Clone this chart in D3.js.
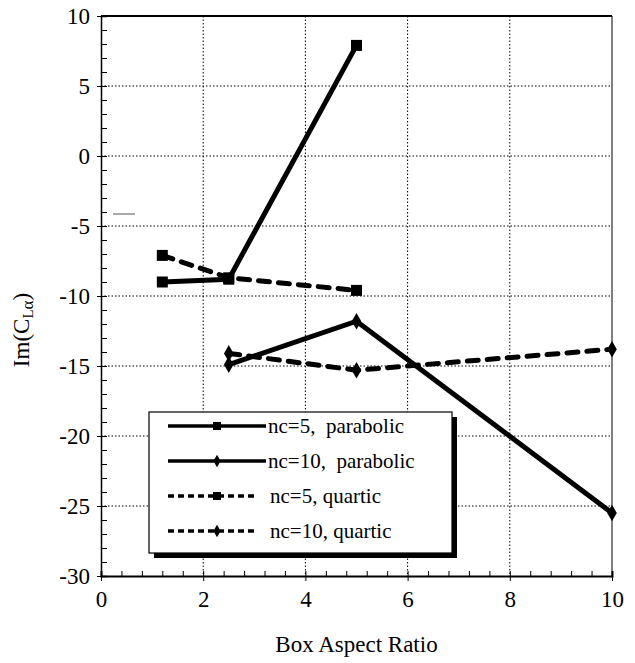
<!DOCTYPE html>
<html>
<head>
<meta charset="utf-8">
<script src="https://cdn.jsdelivr.net/npm/d3@7"></script>
</head>
<body style="margin:0">
<script>
// aspect ratios sampled per series
const xNc5 = [1.2, 2.5, 5];
const xNc10 = [2.5, 5, 10];

// Im(CLa) values
const nc5Parabolic = [-9.0, -8.8, 7.9];
const nc10Parabolic = [-14.9, -11.8, -25.5];
const nc5Quartic = [-7.1, -8.7, -9.6];
const nc10Quartic = [-14.1, -15.3, -13.8];

const xTicks = [0, 2, 4, 6, 8, 10];
const yTicks = [-30, -25, -20, -15, -10, -5, 0, 5, 10];

const seriesNames = ["nc=5,\u00a0 parabolic", "nc=10,\u00a0 parabolic", "nc=5, quartic", "nc=10, quartic"];

const serif = "Liberation Serif";
const x = d3.scaleLinear().domain([0, 10]).range([101, 612]);
const y = d3.scaleLinear().domain([-30, 10]).range([576, 16]);

const svg = d3.select("body").append("svg")
  .attr("width", 635)
  .attr("height", 663)
  .attr("font-family", serif);

// dotted grid
svg.append("g")
  .selectAll("line")
  .data(yTicks.filter(d => d > -30 && d < 10))
  .join("line")
  .attr("x1", x(0)).attr("x2", x(10))
  .attr("y1", d => y(d)).attr("y2", d => y(d))
  .attr("stroke", "#000").attr("stroke-width", 1)
  .attr("stroke-dasharray", "1.5,2");

svg.append("g")
  .selectAll("line")
  .data(xTicks.filter(d => d > 0 && d < 10))
  .join("line")
  .attr("x1", d => x(d)).attr("x2", d => x(d))
  .attr("y1", y(10)).attr("y2", y(-30))
  .attr("stroke", "#000").attr("stroke-width", 1)
  .attr("stroke-dasharray", "1.5,2");

// frame: top and right
svg.append("line").attr("x1", x(0)).attr("x2", x(10)).attr("y1", y(10)).attr("y2", y(10))
  .attr("stroke", "#000").attr("stroke-width", 2);
svg.append("line").attr("x1", x(10)).attr("x2", x(10)).attr("y1", y(10)).attr("y2", y(-30))
  .attr("stroke", "#000").attr("stroke-width", 1);

// minor ticks, inward
const yMinor = svg.append("g")
  .attr("transform", `translate(${x(0)},0)`)
  .call(d3.axisRight(y).ticks(40).tickSize(6).tickFormat(""));
yMinor.select(".domain").attr("stroke-width", 1.5);

const xMinor = svg.append("g")
  .attr("transform", `translate(0,${y(-30)})`)
  .call(d3.axisTop(x).tickValues(d3.range(0, 10.01, 0.4)).tickSize(5).tickFormat(""));
xMinor.select(".domain").attr("stroke-width", 2);

// labelled major ticks
const yLab = svg.append("g")
  .attr("transform", `translate(${x(0)},0)`)
  .call(d3.axisLeft(y).tickValues(yTicks).tickSize(4).tickPadding(7).tickFormat(d => String(d)));
yLab.select(".domain").remove();
yLab.attr("font-family", serif).attr("font-size", 23);

const xLab = svg.append("g")
  .attr("transform", `translate(0,${y(-30)})`)
  .call(d3.axisBottom(x).tickValues(xTicks).tickSize(5).tickPadding(10).tickFormat(d => String(d)));
xLab.select(".domain").remove();
xLab.attr("font-family", serif).attr("font-size", 23);

// axis titles
svg.append("text")
  .attr("x", (x(0) + x(10)) / 2)
  .attr("y", 652)
  .attr("text-anchor", "middle")
  .attr("font-size", 23)
  .text("Box Aspect Ratio");

const yTitle = svg.append("text")
  .attr("transform", "translate(29,330) rotate(-90)")
  .attr("text-anchor", "middle")
  .attr("font-size", 23);
yTitle.append("tspan").text("Im(C");
yTitle.append("tspan").attr("dy", 4).attr("font-size", 15).text("L");
yTitle.append("tspan").attr("font-size", 17).text("\u03b1");
yTitle.append("tspan").attr("dy", -4).text(")");

// scan mark near y axis
svg.append("line").attr("x1", 113).attr("x2", 135).attr("y1", 214).attr("y2", 214)
  .attr("stroke", "#555").attr("stroke-width", 1);

// series
const series = [
  { name: seriesNames[0], xs: xNc5, ys: nc5Parabolic, dash: null, marker: "square" },
  { name: seriesNames[1], xs: xNc10, ys: nc10Parabolic, dash: null, marker: "diamond" },
  { name: seriesNames[2], xs: xNc5, ys: nc5Quartic, dash: "11,9", marker: "square" },
  { name: seriesNames[3], xs: xNc10, ys: nc10Quartic, dash: "11,9", marker: "diamond" }
];

const line = d3.line().x(d => x(d[0])).y(d => y(d[1]));
const sqSym = d3.symbol().type(d3.symbolSquare).size(121);
const dmSym = d3.symbol().type(d3.symbolDiamond).size(80);

series.forEach(s => {
  const pts = s.xs.map((v, i) => [v, s.ys[i]]);
  svg.append("path")
    .datum(pts)
    .attr("d", line)
    .attr("fill", "none")
    .attr("stroke", "#000")
    .attr("stroke-width", 5)
    .attr("stroke-linecap", s.dash ? "round" : "butt")
    .attr("stroke-dasharray", s.dash);
  svg.append("g")
    .selectAll("path")
    .data(pts)
    .join("path")
    .attr("transform", d => `translate(${x(d[0])},${y(d[1])})`)
    .attr("d", s.marker === "square" ? sqSym : dmSym)
    .attr("fill", "#000");
});

// legend with drop shadow
const lg = svg.append("g").attr("transform", "translate(149,412)");
lg.append("rect").attr("x", 5).attr("y", 5).attr("width", 303).attr("height", 141).attr("fill", "#000");
lg.append("rect").attr("width", 303).attr("height", 141)
  .attr("fill", "#fff").attr("stroke", "#000").attr("stroke-width", 1.2);

series.forEach((s, i) => {
  const row = lg.append("g").attr("transform", `translate(0,${14 + i * 35})`);
  row.append("line").attr("x1", 19).attr("x2", s.dash ? 108 : 117).attr("y1", 0).attr("y2", 0)
    .attr("stroke", "#000").attr("stroke-width", 3.5).attr("stroke-dasharray", s.dash ? "6,4" : null);
  row.append("path")
    .attr("transform", "translate(68,0)")
    .attr("d", d3.symbol().type(s.marker === "square" ? d3.symbolSquare : d3.symbolDiamond).size(s.marker === "square" ? 64 : 45))
    .attr("fill", "#000");
  row.append("text")
    .attr("x", s.dash ? 121 : 119)
    .attr("y", 7)
    .attr("font-size", 21)
    .text(s.name);
});
</script>
</body>
</html>
